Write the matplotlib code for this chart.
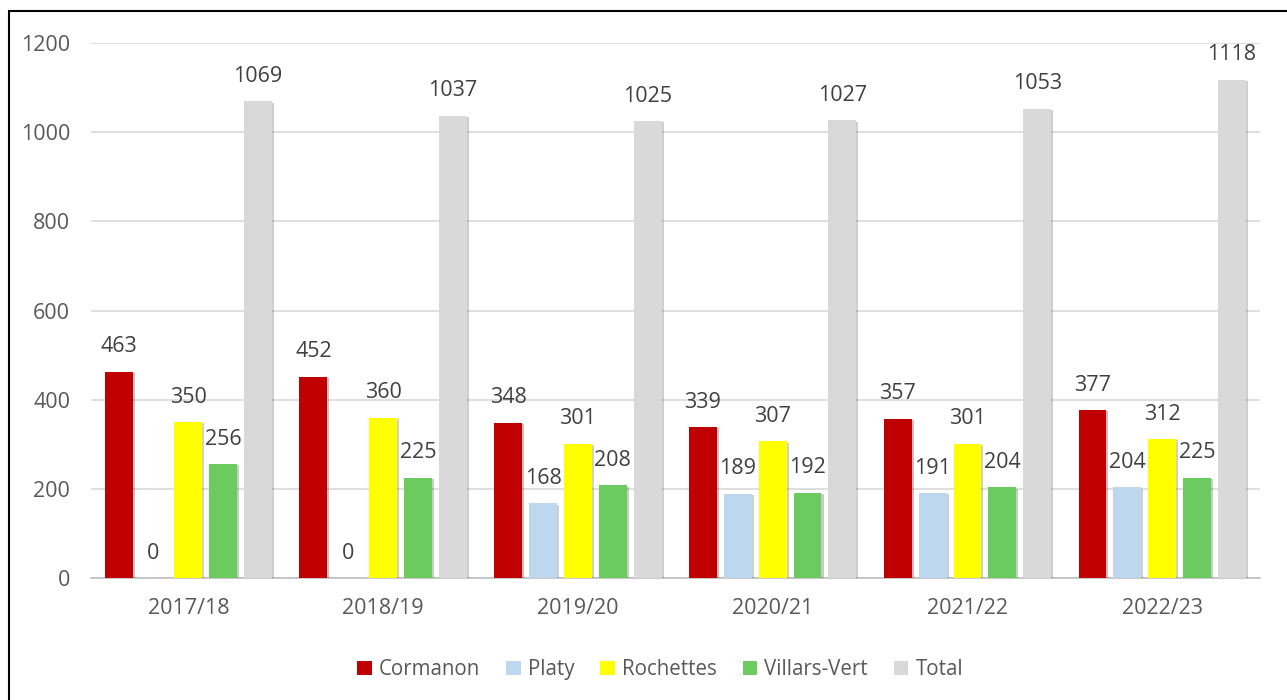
import numpy as np
import matplotlib.pyplot as plt
from matplotlib import patheffects as pe
from matplotlib.patches import Rectangle

# Données
saisons = ['2017/18', '2018/19', '2019/20', '2020/21', '2021/22', '2022/23']
cormanon = [463, 452, 348, 339, 357, 377]
platy = [0, 0, 168, 189, 191, 204]
rochettes = [350, 360, 301, 307, 301, 312]
villars_vert = [256, 225, 208, 192, 204, 225]
total = [1069, 1037, 1025, 1027, 1053, 1118]

series = [
    ('Cormanon', cormanon, '#C00000'),
    ('Platy', platy, '#BDD7EE'),
    ('Rochettes', rochettes, '#FFFF00'),
    ('Villars-Vert', villars_vert, '#6BCB5F'),
    ('Total', total, '#D9D9D9'),
]

plt.rcParams['font.family'] = ['Open Sans', 'DejaVu Sans']

fig = plt.figure(figsize=(12.87, 7), dpi=100)
ax = fig.add_axes([0.0707, 0.174, 0.908, 0.7646])

x = np.arange(len(saisons))
pas = 0.179
largeur = 0.143
ombre = [pe.SimplePatchShadow(offset=(1.5, -1), alpha=0.25), pe.Normal()]

for i, (nom, vals, couleur) in enumerate(series):
    pos = x + (i - 2) * pas
    barres = ax.bar(pos, vals, largeur, color=couleur, label=nom, zorder=3)
    for b in barres:
        b.set_path_effects(ombre)
    for xp, v in zip(pos, vals):
        ax.annotate(str(v), (xp, v), xytext=(0, 18), textcoords='offset points',
                    ha='center', va='center', fontsize=15.5, color='#404040')

ax.set_xlim(-0.5, len(saisons) - 0.5)
ax.set_ylim(0, 1200)
ax.set_yticks(range(0, 1201, 200))
ax.set_xticks(x)
ax.set_xticklabels(saisons)
ax.tick_params(axis='both', length=0, labelsize=15.5, colors='#595959')
ax.tick_params(axis='x', pad=14)
ax.tick_params(axis='y', pad=15)
ax.grid(axis='y', color='#D9D9D9', linewidth=1.2, zorder=0)
for s in ['top', 'right', 'left']:
    ax.spines[s].set_visible(False)
ax.spines['bottom'].set_color('#BFBFBF')
ax.spines['bottom'].set_linewidth(1.2)

leg = fig.legend(loc='center', bbox_to_anchor=(0.513, 0.043), ncol=5, frameon=False,
                 fontsize=14.8, handlelength=0.7, handleheight=0.7,
                 handletextpad=0.35, columnspacing=1.27)
for t in leg.get_texts():
    t.set_color('#595959')
for h in leg.legend_handles:
    h.set_path_effects([])

# cadre (haut et gauche visibles)
fig.patches.append(Rectangle((9 / 1287, -0.1), 1.2, 1 - 11 / 700 + 0.1,
                             transform=fig.transFigure, fill=False,
                             edgecolor='black', linewidth=1.5))

fig.savefig('out.png', dpi=100)
